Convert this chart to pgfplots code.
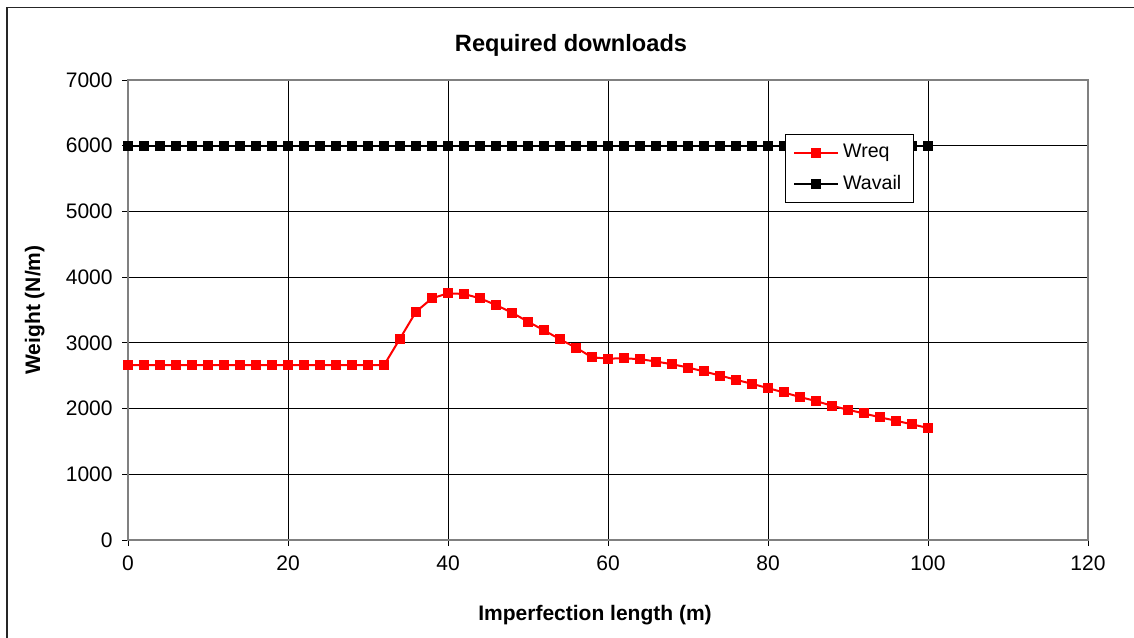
\documentclass[border=0pt]{standalone}
\usepackage{pgfplots}
\pgfplotsset{compat=1.18}
\usepackage{fontspec}
\setmainfont{Liberation Sans}
\definecolor{frameg}{RGB}{128,128,128}
\begin{document}
\fontsize{10.5}{12.6}\selectfont
\begin{tikzpicture}
\useasboundingbox (0,0) rectangle (567pt,318.5pt);
\begin{scope}
\clip (0,0) rectangle (567pt,318.5pt);
\draw[line width=0.9pt, black!85] (3.6pt,-10pt) -- (3.6pt,314.7pt) -- (580pt,314.7pt);
\end{scope}
\begin{axis}[
  at={(64pt,48.5pt)}, anchor=south west,
  scale only axis, width=480pt, height=230pt,
  xmin=0, xmax=120, ymin=0, ymax=7000,
  xtick={0,20,...,120}, ytick={0,1000,...,7000},
  tick pos=left,
  grid=major, major grid style={black, line width=0.5pt},
  axis line style={frameg, line width=1pt},
  tick style={black, line width=0.5pt},
  tick align=outside, major tick length=3pt,
  x tick label style={yshift=-1pt},
  y tick label style={xshift=-1pt},
  /pgf/number format/assume math mode=true,
  /pgf/number format/1000 sep={},
  scaled ticks=false,
  title={\fontsize{11.8}{14}\selectfont\textbf{Required downloads}},
  title style={at={(0.5,1)}, anchor=south, yshift=2pt, xshift=-18.5pt},
  xlabel={\textbf{Imperfection length (m)}},
  ylabel={\textbf{Weight (N/m)}},
  xlabel style={yshift=-10.5pt, xshift=-6.5pt},
  ylabel style={yshift=3.5pt},
  legend style={at={(0.684,0.883)}, anchor=north west, draw=black, line width=0.5pt,
    fill=white, inner xsep=4pt, inner ysep=3pt, row sep=3pt, font=\fontsize{9.8}{12}\selectfont,
    cells={anchor=west}},
  legend image code/.code={
    \draw[#1, mark repeat=2, mark phase=2] plot coordinates {(0pt,0pt) (11pt,0pt) (22pt,0pt)};},
  legend cell align=left,
]
\addplot[red, line width=1pt, mark=square*, mark size=2pt, mark options={solid}] coordinates {
(0,2660)(2,2660)(4,2660)(6,2660)(8,2660)(10,2660)(12,2660)(14,2660)(16,2660)(18,2660)
(20,2660)(22,2660)(24,2660)(26,2660)(28,2660)(30,2660)(32,2660)
(34,3065)(36,3474)(38,3678)(40,3754)(42,3744)(44,3678)(46,3576)(48,3459)(50,3322)
(52,3191)(54,3054)(56,2927)(58,2780)(60,2760)(62,2765)(64,2752)(66,2716)(68,2675)
(70,2625)(72,2565)(74,2503)(76,2438)(78,2377)(80,2311)(82,2245)(84,2175)(86,2114)
(88,2043)(90,1982)(92,1926)(94,1866)(96,1815)(98,1760)(100,1705)
};
\addlegendentry{Wreq}
\addplot[black, line width=1pt, mark=square*, mark size=2pt] coordinates {
(0,6000)(2,6000)(4,6000)(6,6000)(8,6000)(10,6000)(12,6000)(14,6000)(16,6000)(18,6000)
(20,6000)(22,6000)(24,6000)(26,6000)(28,6000)(30,6000)(32,6000)(34,6000)(36,6000)(38,6000)
(40,6000)(42,6000)(44,6000)(46,6000)(48,6000)(50,6000)(52,6000)(54,6000)(56,6000)(58,6000)
(60,6000)(62,6000)(64,6000)(66,6000)(68,6000)(70,6000)(72,6000)(74,6000)(76,6000)(78,6000)
(80,6000)(82,6000)(84,6000)(86,6000)(88,6000)(90,6000)(92,6000)(94,6000)(96,6000)(98,6000)(100,6000)
};
\addlegendentry{Wavail}
\end{axis}
\end{tikzpicture}
\end{document}
